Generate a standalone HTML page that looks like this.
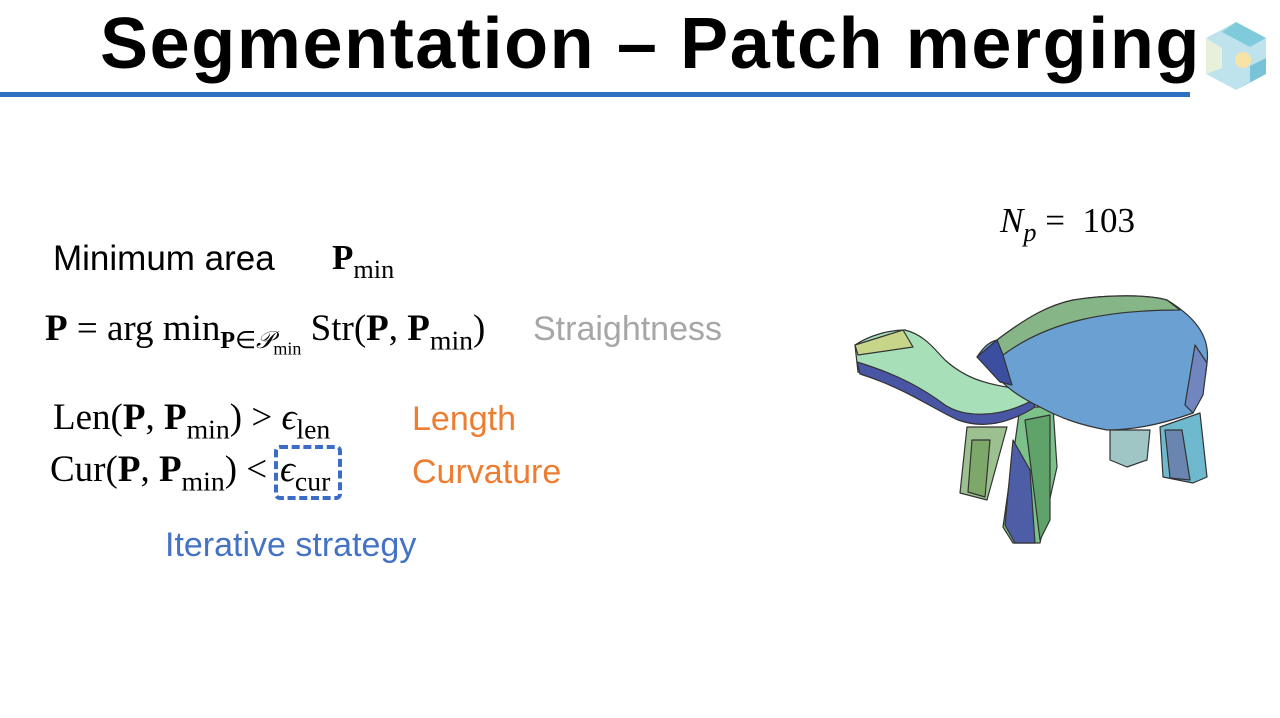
<!DOCTYPE html>
<html><head><meta charset="utf-8"><style>
html,body{margin:0;padding:0;background:#fff;}
body{width:1280px;height:718px;position:relative;overflow:hidden;font-family:"Liberation Sans",sans-serif;}
.t{position:absolute;white-space:nowrap;}
.m{font-family:"Liberation Serif",serif;}
sub{font-size:0.75em;vertical-align:-0.35em;}
</style></head><body>
<div class="t" style="left:100px;top:3px;font-size:72px;font-weight:bold;letter-spacing:1.6px;color:#000;">Segmentation – Patch merging</div>
<div style="position:absolute;left:0;top:92px;width:1190px;height:5px;background:#2e6fc0;"></div>
<svg style="position:absolute;left:1200px;top:18px" width="72" height="80" viewBox="0 0 72 80">
<polygon points="36,4 66,20 66,56 36,72 6,56 6,20" fill="#bfe3ec"/>
<polygon points="36,4 66,20 50,29 22,14" fill="#7fcbdc"/>
<polygon points="6,20 22,30 22,50 6,56" fill="#e8f0dc"/>
<polygon points="36,72 66,56 66,40 50,48 50,64" fill="#79c3d8"/>
<circle cx="43" cy="42" r="8" fill="#f8e3a6"/>
</svg>
<div class="t m" style="left:1000px;top:201px;font-size:35px;"><i>N<sub>p</sub></i> =&nbsp; 103</div>
<div class="t" style="left:53px;top:239px;font-size:35px;">Minimum area</div>
<div class="t m" style="left:332px;top:238px;font-size:35px;"><b>P</b><sub>min</sub></div>
<div class="t m" style="left:45px;top:307px;font-size:37px;"><b>P</b> = arg min<sub style="font-size:0.65em"><b>P</b>∈<i>𝒫</i><sub>min</sub></sub> Str(<b>P</b>, <b>P</b><sub>min</sub>)</div>
<div class="t" style="left:533px;top:310px;font-size:34px;color:#a6a6a6;">Straightness</div>
<div class="t m" style="left:53px;top:396px;font-size:37px;">Len(<b>P</b>, <b>P</b><sub>min</sub>) &gt; <i>ϵ</i><sub>len</sub></div>
<div class="t m" style="left:50px;top:448px;font-size:37px;">Cur(<b>P</b>, <b>P</b><sub>min</sub>) &lt;</div>
<div class="t m" style="left:280px;top:448px;font-size:37px;"><i>ϵ</i><sub>cur</sub></div>
<div style="position:absolute;left:274px;top:445px;width:68px;height:55px;border:4px dashed #3a6cc8;border-radius:6px;box-sizing:border-box;"></div>
<div class="t" style="left:412px;top:400px;font-size:34px;color:#ed7d31;">Length</div>
<div class="t" style="left:412px;top:453px;font-size:34px;color:#ed7d31;">Curvature</div>
<div class="t" style="left:165px;top:526px;font-size:34px;color:#4472c4;">Iterative strategy</div>
<svg style="position:absolute;left:0;top:0" width="1280" height="718" stroke="#333" stroke-width="1.2" stroke-linejoin="round">
<path d="M967,427 L960,493 L987,500 L1007,427 Z" fill="#9cc08f"/>
<path d="M972,440 L968,492 L985,497 L990,440 Z" fill="#7ea86a"/>
<path d="M1110,430 L1110,460 L1127,467 L1147,460 L1150,430 Z" fill="#9fc5c4"/>
<path d="M1160,427 L1163,477 L1193,483 L1207,477 L1200,413 Z" fill="#6fb9cf"/>
<path d="M1165,430 L1170,478 L1190,480 L1182,430 Z" fill="#6a86b0"/>
<path d="M1020,407 L1003,527 L1013,543 L1040,543 L1057,467 L1053,407 Z" fill="#7cc08a"/>
<path d="M1013,440 L1005,525 L1015,543 L1035,543 L1030,470 Z" fill="#4d5ea6"/>
<path d="M1025,420 L1040,540 L1050,520 L1050,415 Z" fill="#5fa36a"/>
<path d="M855,345 C870,335 890,330 905,330 C925,335 935,350 945,360 C965,378 985,385 1027,390 L1035,405 C1005,425 985,428 960,420 C940,410 920,392 858,372 Z" fill="#a7e0b8"/>
<path d="M857,362 C900,375 925,390 945,405 C965,418 1000,418 1033,400 L1035,407 C1005,426 980,428 958,420 C935,410 905,388 860,374 Z" fill="#4956a6"/>
<path d="M855,345 L903,330 L913,347 L858,355 Z" fill="#c7d58a"/>
<path d="M977,357 C985,345 990,342 997,340 C1030,315 1050,305 1073,300 C1110,294 1150,295 1167,300 C1200,320 1210,340 1207,363 C1205,385 1200,400 1193,413 C1160,425 1130,430 1107,430 C1080,425 1060,418 1040,407 C1015,395 1005,385 1000,380 Z" fill="#6aa1d2"/>
<path d="M997,340 C1030,315 1050,305 1073,300 C1110,294 1150,295 1167,300 L1180,310 C1110,310 1050,320 1003,355 Z" fill="#86b587"/>
<path d="M977,357 L997,340 L1003,355 L1012,385 L1000,382 Z" fill="#3b4ea0"/>
<path d="M1195,345 L1207,363 L1203,395 L1193,413 L1185,405 Z" fill="#7186bf"/>
</svg>
</body></html>
